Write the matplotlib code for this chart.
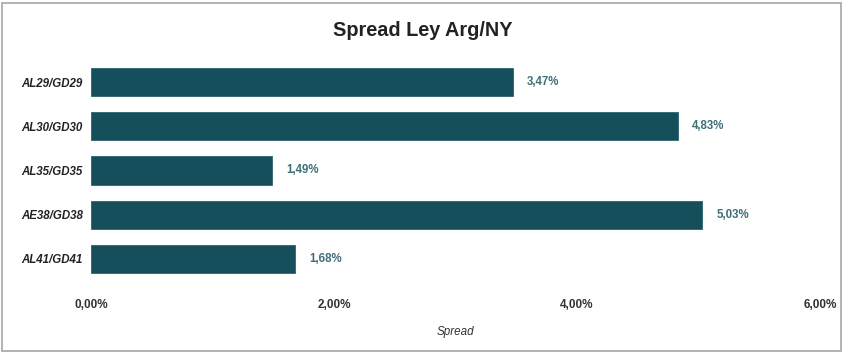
import matplotlib
matplotlib.use("Agg")
import matplotlib.pyplot as plt
from matplotlib.patches import Rectangle

categories = ["AL29/GD29", "AL30/GD30", "AL35/GD35", "AE38/GD38", "AL41/GD41"]
values = [3.47, 4.83, 1.49, 5.03, 1.68]
value_labels = ["3,47%", "4,83%", "1,49%", "5,03%", "1,68%"]
xticks = [0, 2, 4, 6]
xtick_labels = ["0,00%", "2,00%", "4,00%", "6,00%"]

plt.rcParams['font.family'] = ['Liberation Sans', 'DejaVu Sans']

W, H = 846, 358
fig = plt.figure(figsize=(W / 100, H / 100), dpi=100)
# axes: x from px 91 to 820, y from px 60 to 281
ax = fig.add_axes([91 / W, 1 - 281 / H, (820 - 91) / W, (281 - 60) / H])

bar_color = "#164F5C"
ypos = list(range(len(categories)))
ax.barh(ypos, values, height=0.64, color=bar_color, edgecolor="#2d6470", linewidth=0.6)
ax.set_ylim(len(categories) - 0.5, -0.5)
ax.set_xlim(0, 6)

for y, v, lab in zip(ypos, values, value_labels):
    ax.text(v + 0.115, y, lab, va="center", ha="left", fontsize=8.3,
            fontweight="bold", color="#3F6E79")

ax.set_yticks(ypos)
ax.set_yticklabels(categories, fontsize=8.3, fontweight="bold", fontstyle="italic", color="#222222")
ax.set_xticks(xticks)
ax.set_xticklabels(xtick_labels, fontsize=8.5, fontweight="bold", color="#333333")
ax.tick_params(axis="both", length=0)
ax.tick_params(axis="y", pad=6)
ax.tick_params(axis="x", pad=13)
for s in ax.spines.values():
    s.set_visible(False)
ax.set_xlabel("Spread", fontsize=8.4, fontstyle="italic", color="#333333", labelpad=11)

fig.text(0.5, 1 - 30 / H, "Spread Ley Arg/NY", ha="center", va="center",
         fontsize=14.3, fontweight="bold", color="#222222")

fig.patches.append(Rectangle((1.5 / W, 1 - 351 / H), 839.5 / W, 348 / H,
                             transform=fig.transFigure, fill=False,
                             edgecolor="#A6A6A6", linewidth=1.2))

fig.savefig("out.png", dpi=100)
